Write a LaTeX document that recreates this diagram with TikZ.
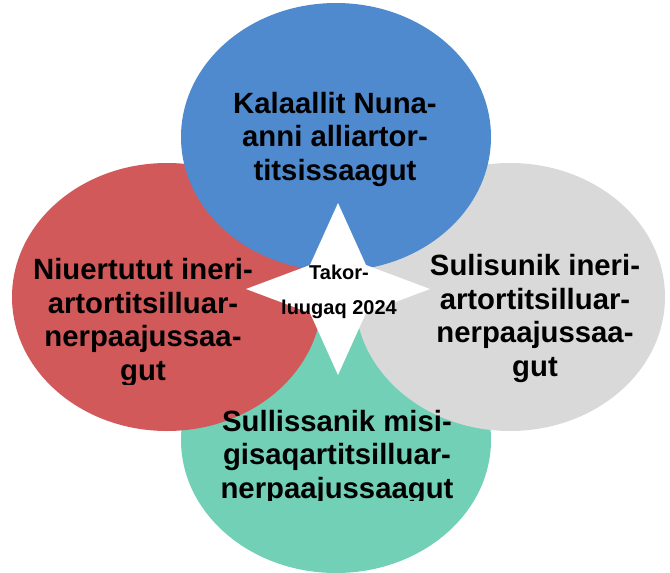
\documentclass[tikz,border=0pt]{standalone}
\usepackage{fontspec}
\setmainfont{Liberation Sans}
\usetikzlibrary{calc}

\definecolor{blueleaf}{RGB}{79,138,206}
\definecolor{redleaf}{RGB}{209,89,89}
\definecolor{greyleaf}{RGB}{217,217,217}
\definecolor{tealleaf}{RGB}{113,208,182}

\tikzset{
  leaftext/.style={font=\fontsize{29.3}{33.5}\selectfont\bfseries, align=center, inner sep=0pt, anchor=base},
  startext/.style={font=\fontsize{20}{35}\selectfont\bfseries, align=center, inner sep=0pt, anchor=base}
}

\begin{document}
\begin{tikzpicture}[x=1pt,y=-1pt]
		\useasboundingbox (0,0) rectangle (670,573);
		% the four leaves
		\fill[tealleaf] (336,440) ellipse (155pt and 133pt);
		\fill[redleaf] (167,297) ellipse (155pt and 134pt);
		\fill[greyleaf] (510,297) ellipse (155pt and 134pt);
		\fill[blueleaf] (336,137) ellipse (155pt and 134pt);
		% star in the middle
		\fill[white] (338,203)--(366,265)--(430,289)--(366,313)--(338,375)--(310,313)--(246,289)--(310,265)--cycle;
		% labels (anchored at the baseline of the last line)
		\node[leaftext] (kalaallit) at (335,180) {Kalaallit Nuna-\\anni alliartor-\\titsissaagut};
		\begin{scope}
		\clip (0,0) rectangle (330,384);
		\node[leaftext] (niuertutut) at (143,380) {Niuertutut ineri-\\artortitsilluar-\\nerpaajussaa-\\gut};
		\end{scope}
		\node[leaftext] (sulisunik) at (535,376) {Sulisunik ineri-\\artortitsilluar-\\nerpaajussaa-\\gut};
		\begin{scope}
		\clip (0,0) rectangle (670,500);
		\node[leaftext] (sullissanik) at (337,498) {Sullissanik misi-\\gisaqartitsilluar-\\nerpaajussaagut};
		\end{scope}
		\node[startext] (takorluugaq) at (339,314) {Takor-\\luugaq 2024};
\end{tikzpicture}
\end{document}
